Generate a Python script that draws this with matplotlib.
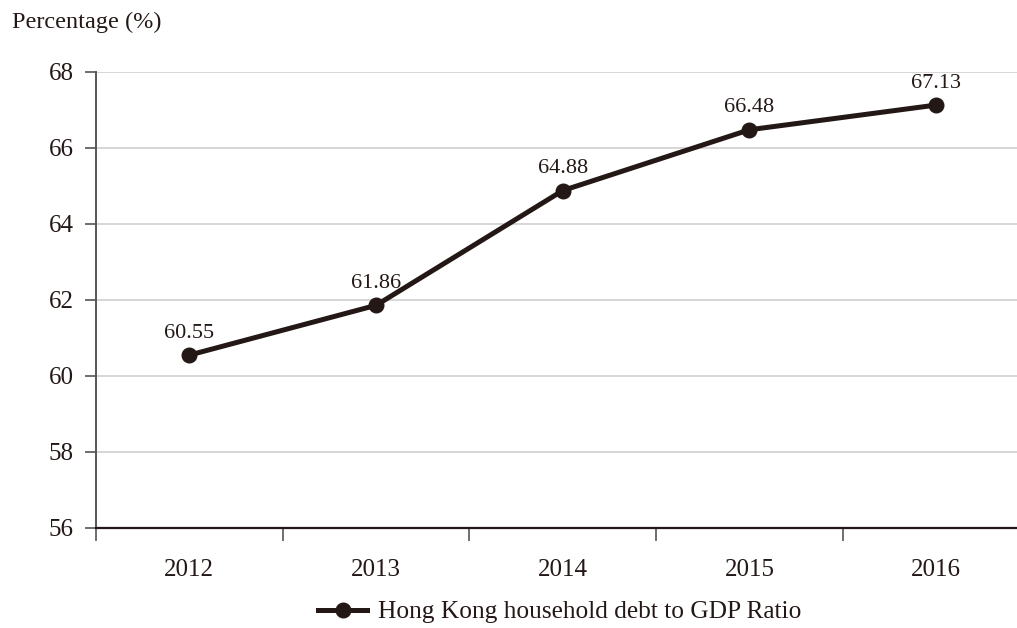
#!/usr/bin/env python3
# coding: utf-8

import numpy
import matplotlib
matplotlib.use('Agg')
from matplotlib import pyplot as plt


YEARS = ['2012', '2013', '2014', '2015', '2016']
RATIO = [60.55, 61.86, 64.88, 66.48, 67.13]
Y_TICKS = [56, 58, 60, 62, 64, 66, 68]

LABEL = 'Hong Kong household debt to GDP Ratio'
YLABEL = 'Percentage (%)'
LINE_COLOR = '#231815'


def main():
    plt.rcParams['font.family'] = ['Liberation Serif', 'DejaVu Serif']
    fig = plt.figure(figsize=(10.17, 6.28), dpi=100)
    ax = fig.add_axes([96 / 1017, 1 - 528 / 628, 1 - 96 / 1017, (528 - 72) / 628])

    x = numpy.arange(len(YEARS))
    line, = ax.plot(x, RATIO, color=LINE_COLOR, linewidth=3.6,
                    marker='o', markersize=10.5, label=LABEL, zorder=3,
                    clip_on=False)

    for xi, val in zip(x, RATIO):
        ax.annotate(f'{val:.2f}', (xi, val), textcoords='offset points',
                    xytext=(0, 9), ha='center', va='bottom', fontsize=16,
                    color='#231815')

    ax.set_ylim(56, 68)
    ax.set_yticks(Y_TICKS)

    # category boundaries as major ticks, year labels at centres
    ax.set_xticks(numpy.arange(len(YEARS) + 1) - 0.5)
    ax.set_xticklabels([])
    ax.set_xticks(x, minor=True)
    ax.set_xticklabels(YEARS, minor=True)
    ax.set_xlim(-0.5, -0.5 + (1017 - 96) / 186.7)
    ax.tick_params(axis='x', which='major', direction='out', length=9,
                   width=1.2, color='#555555')
    ax.tick_params(axis='x', which='minor', length=0, pad=22, labelsize=18,
                   labelcolor='#231815')
    ax.tick_params(axis='y', direction='out', length=8, width=1.2,
                   color='#555555', labelsize=18, labelcolor='#231815', pad=8)

    ax.yaxis.grid(True, color='#cfcfcf', linewidth=1.2)
    ax.set_axisbelow(True)
    for side in ('top', 'right'):
        ax.spines[side].set_visible(False)
    ax.spines['left'].set_color('#555555')
    ax.spines['left'].set_linewidth(1.4)
    ax.spines['bottom'].set_color('#231815')
    ax.spines['bottom'].set_linewidth(1.6)

    fig.text(12 / 1017, 1 - 22 / 628, YLABEL, fontsize=17.5, va='center',
             ha='left', color='#231815')

    fig.legend(handles=[line], loc='center', bbox_to_anchor=(560 / 1017, 1 - 612 / 628),
               frameon=False, fontsize=18.3, handlelength=1.9, handletextpad=0.45,
               borderpad=0, labelcolor='#231815')

    fig.savefig('out.png', dpi=100)


if __name__ == '__main__':
    main()
